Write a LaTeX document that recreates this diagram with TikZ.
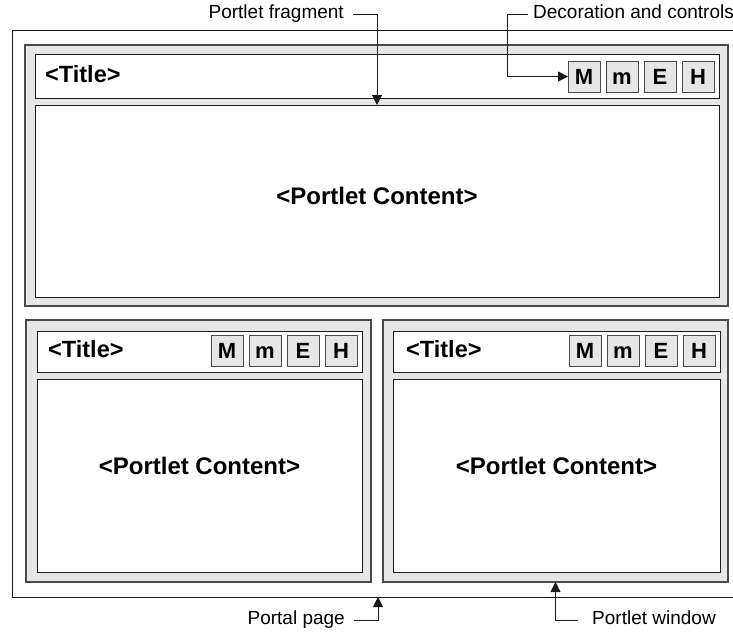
\documentclass[tikz,border=0pt]{standalone}
\usepackage{fontspec}
\setmainfont{Liberation Sans}
\usetikzlibrary{arrows.meta}
\definecolor{panelgray}{HTML}{E6E6E6}
\definecolor{edgegray}{HTML}{4A4A4A}
\definecolor{inkgray}{HTML}{1A1A1A}

\begin{document}
\begin{tikzpicture}[x=1pt,y=-1pt,
  rect/.style={inner sep=0pt, outer sep=0pt, anchor=north west},
  pagebox/.style={rect, draw=inkgray, line width=1pt},
  window/.style={rect, draw=edgegray, fill=panelgray, line width=1.3pt},
  bar/.style={rect, draw=inkgray, fill=white, line width=1pt},
  btn/.style={rect, draw=edgegray, fill=panelgray, line width=0.9pt,
    minimum width=32pt, minimum height=31pt, text height=15.5pt, text depth=0pt,
    font=\fontsize{22}{24}\selectfont\bfseries},
  ttl/.style={inner sep=0pt, anchor=west, font=\fontsize{23.5}{26}\selectfont\bfseries},
  ctext/.style={inner sep=0pt, font=\fontsize{24}{26}\selectfont\bfseries},
  lbl/.style={inner sep=0pt, text height=13.5pt, text depth=4pt,
    font=\fontsize{19}{22}\selectfont},
  arr/.style={draw=inkgray, line width=0.9pt, -{Triangle[length=10pt,width=10pt]}}
]
\useasboundingbox (0,0) rectangle (733,634);

% portal page
\node[pagebox, minimum width=732pt, minimum height=566pt] (page) at (12,31) {};

% upper portlet window
\node[window, minimum width=703pt, minimum height=261pt] (w1) at (25,45) {};
\node[bar, minimum width=684pt, minimum height=43pt] (b1) at (35,55) {};
\node[bar, minimum width=684pt, minimum height=192pt] (c1) at (35,105) {};
\node[ttl] (t1) at (45,74) {<Title>};
\node[btn] (b1M) at (568,61) {M};
\node[btn] (b1m) at (606,61) {m};
\node[btn] (b1E) at (644,61) {E};
\node[btn] (b1H) at (682,61) {H};
\node[ctext] (ct1) at ([yshift=5pt]c1.center) {<Portlet Content>};

% lower left portlet window
\node[window, minimum width=345pt, minimum height=262pt] (w2) at (26,320) {};
\node[bar, minimum width=325pt, minimum height=41pt] (b2) at (37,331) {};
\node[bar, minimum width=325pt, minimum height=193pt] (c2) at (37,379) {};
\node[ttl] (t2) at (48,349) {<Title>};
\node[btn] (b2M) at (211,335) {M};
\node[btn] (b2m) at (249,335) {m};
\node[btn] (b2E) at (287,335) {E};
\node[btn] (b2H) at (325,335) {H};
\node[ctext] (ct2) at ([yshift=10pt]c2.center) {<Portlet Content>};

% lower right portlet window
\node[window, minimum width=345pt, minimum height=262pt] (w3) at (383,320) {};
\node[bar, minimum width=327pt, minimum height=41pt] (b3) at (393,331) {};
\node[bar, minimum width=327pt, minimum height=193pt] (c3) at (393,379) {};
\node[ttl] (t3) at (406,349) {<Title>};
\node[btn] (b3M) at (569,335) {M};
\node[btn] (b3m) at (607,335) {m};
\node[btn] (b3E) at (645,335) {E};
\node[btn] (b3H) at (683,335) {H};
\node[ctext] (ct3) at ([yshift=10pt]c3.center) {<Portlet Content>};

% callout labels
\node[lbl, anchor=east] (pf) at (344,14) {Portlet fragment};
\node[lbl, anchor=west] (dc) at (533,14) {Decoration and controls};
\node[lbl, anchor=east] (pp) at (345,620) {Portal page};
\node[lbl, anchor=west] (pw) at (592,620) {Portlet window};

\draw[arr] ([xshift=9pt]pf.east) -| (c1.north);
\draw[arr] ([xshift=-5pt]dc.west) -- ++(-21,0) |- (b1M.west);
\draw[arr] ([xshift=9pt]pp.east) -| (page.south);
\draw[arr] ([xshift=-14pt]pw.west) -| (w3.south);
\end{tikzpicture}
\end{document}
